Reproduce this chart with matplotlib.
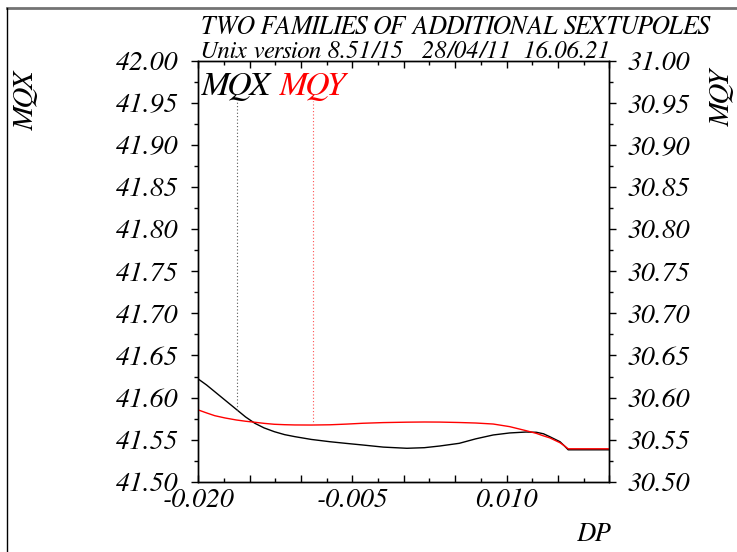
import numpy as np
import matplotlib
matplotlib.use('Agg')
import matplotlib.pyplot as plt
from matplotlib.lines import Line2D
from matplotlib.ticker import MultipleLocator, FuncFormatter

# momentum deviation DP and the two tunes
dp = [-0.0200, -0.0192, -0.0184, -0.0174, -0.0163, -0.0154, -0.0145, -0.0136,
      -0.0126, -0.0116, -0.0106, -0.0090, -0.0072, -0.0056, -0.0040, -0.0020,
      0.0003, 0.0020, 0.0035, 0.0054, 0.0070, 0.0087, 0.0103, 0.0119,
      0.0129, 0.0136, 0.0142, 0.0152, 0.0156, 0.0160, 0.0200]
mqx = [41.622, 41.615, 41.607, 41.597, 41.586, 41.577, 41.5695, 41.564,
       41.5595, 41.556, 41.5536, 41.5503, 41.5476, 41.5456, 41.5437, 41.5412,
       41.5398, 41.5405, 41.5425, 41.5457, 41.5510, 41.5556, 41.5580, 41.5591,
       41.5588, 41.5570, 41.5536, 41.5476, 41.5430, 41.5380, 41.5380]
mqy = [30.5853, 30.5818, 30.5785, 30.5758, 30.5734, 30.5719, 30.5707, 30.5694,
       30.5683, 30.5678, 30.5675, 30.5674, 30.5677, 30.5685, 30.5695, 30.5703,
       30.5708, 30.5710, 30.5709, 30.5704, 30.5698, 30.5686, 30.5655, 30.5607,
       30.5575, 30.5545, 30.5522, 30.5464, 30.5430, 30.5392, 30.5392]

# dotted marker positions and where they stop at the top
mqx_mark = -0.0162
mqy_mark = -0.0088
mqx_top = 41.952
mqy_top = 30.952

x_labels = [-0.020, -0.005, 0.010]
title = 'TWO FAMILIES OF ADDITIONAL SEXTUPOLES'
subtitle = 'Unix version 8.51/15   28/04/11  16.06.21'

plt.rcParams['font.family'] = 'FreeSerif'
plt.rcParams['font.style'] = 'italic'
plt.rcParams['axes.unicode_minus'] = False

W, H = 737, 552
fig = plt.figure(figsize=(W / 100, H / 100), dpi=100)


def fx(px):
    return px / W


def fy(py):
    return 1 - py / H


ax = fig.add_axes([fx(198.3), fy(481.8), fx(609.3) - fx(198.3), fy(60.7) - fy(481.8)])
ax2 = ax.twinx()

ax.plot(dp, mqx, color='black', lw=1.0)
ax2.plot(dp, mqy, color='red', lw=1.0)

# vertical dotted lines from the curves up to just below the legend
ax.plot([mqx_mark, mqx_mark], [np.interp(mqx_mark, dp, mqx), mqx_top],
        color='0.35', lw=0.8, ls=(0, (1, 2)))
ax2.plot([mqy_mark, mqy_mark], [np.interp(mqy_mark, dp, mqy), mqy_top],
         color='#ff5050', lw=0.8, ls=(0, (1, 2)))

ax.set_xlim(-0.020, 0.020)
ax.set_ylim(41.50, 42.00)
ax2.set_ylim(30.50, 31.00)

ax.xaxis.set_major_locator(MultipleLocator(0.005))
ax.xaxis.set_minor_locator(MultipleLocator(0.0025))


def xfmt(v, pos):
    for lab in x_labels:
        if abs(v - lab) < 1e-9:
            return '%.3f' % v
    return ''


ax.xaxis.set_major_formatter(FuncFormatter(xfmt))
for a in (ax, ax2):
    a.yaxis.set_major_locator(MultipleLocator(0.05))
    a.yaxis.set_minor_locator(MultipleLocator(0.025))
    a.yaxis.set_major_formatter(FuncFormatter(lambda v, p: '%.2f' % v))
    for s in a.spines.values():
        s.set_linewidth(1.0)

ax.tick_params(axis='x', which='both', direction='in', top=True, bottom=True,
               width=1, labelsize=20, pad=5)
ax.tick_params(axis='x', which='major', length=5)
ax.tick_params(axis='x', which='minor', length=3)
ax.tick_params(axis='y', which='both', direction='out', left=True, right=False,
               width=1, labelsize=20, pad=9)
ax.tick_params(axis='y', which='major', length=5)
ax.tick_params(axis='y', which='minor', length=3)
ax2.tick_params(axis='y', which='both', direction='out', left=False, right=True,
                width=1, labelsize=20, pad=8)
ax2.tick_params(axis='y', which='major', length=5)
ax2.tick_params(axis='y', which='minor', length=3)

# titles and labels
fig.text(fx(200), fy(34), title, fontsize=18.7, va='baseline', ha='left')
fig.text(fx(200), fy(57.5), subtitle, fontsize=17.8, va='baseline', ha='left')
fig.text(fx(201), fy(95), 'MQX', fontsize=24.5, color='black', va='baseline')
fig.text(fx(279), fy(95), 'MQY', fontsize=24.5, color='red', va='baseline')
fig.text(fx(26), fy(100), 'MQX', fontsize=21, rotation=90, ha='center', va='center')
fig.text(fx(722), fy(97), 'MQY', fontsize=21, rotation=90, ha='center', va='center')
fig.text(fx(593), fy(535), 'DP', fontsize=19, ha='center', va='center')

# frame around the picture
fig.add_artist(Line2D([fx(7), 1], [fy(7.5), fy(7.5)], color='0.45', lw=2))
fig.add_artist(Line2D([fx(7), fx(7)], [0, fy(7.5)], color='black', lw=1))

fig.savefig('out.png', dpi=100)
